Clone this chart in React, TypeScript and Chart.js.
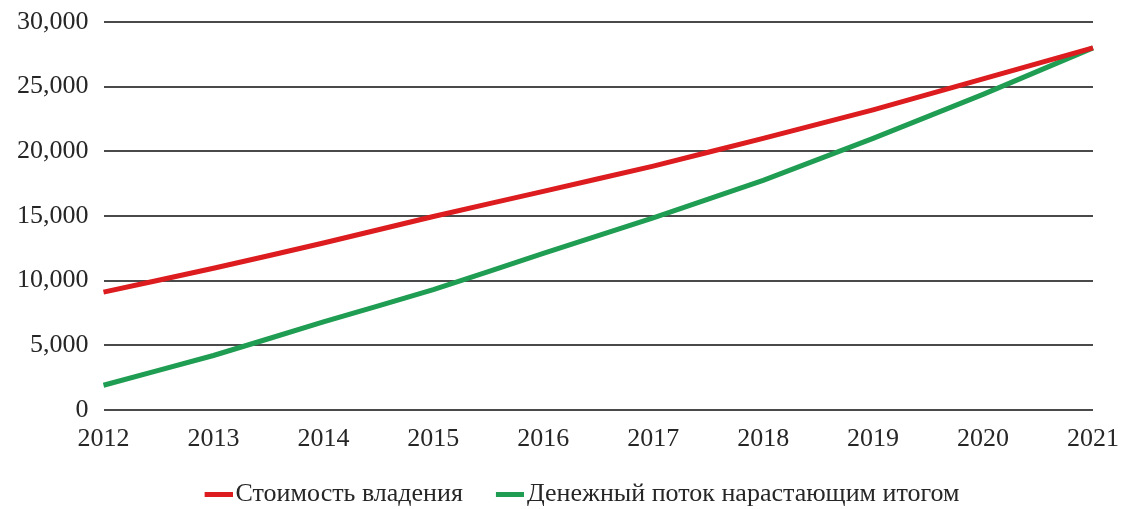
import React, { useEffect, useRef } from "react";
import { Chart, registerables } from "chart.js";

Chart.register(...registerables);

const years = ["2012", "2013", "2014", "2015", "2016", "2017", "2018", "2019", "2020", "2021"];
const ownershipCost = [9100, 10950, 12900, 14950, 16900, 18850, 21000, 23200, 25600, 28000];
const cumulativeCashFlow = [1900, 4200, 6800, 9300, 12100, 14850, 17750, 21000, 24400, 28000];
const seriesNames = ["Стоимость владения", "Денежный поток нарастающим итогом"];
const seriesColors = ["#dd1c1f", "#1f9d52"];

const FONT = "'Liberation Serif', 'Times New Roman', serif";
const BOX_W = 39;

function makeMarker(color: string): HTMLCanvasElement {
  const w = BOX_W + 20;
  const c = document.createElement("canvas");
  c.width = w;
  c.height = 5;
  const ctx = c.getContext("2d")!;
  ctx.fillStyle = color;
  ctx.fillRect(w - 28, 0, 28, 5);
  return c;
}

export default function App() {
  const ref = useRef<HTMLCanvasElement>(null);
  useEffect(() => {
    document.body.style.margin = "0";
    const markers = seriesColors.map(makeMarker);
    const chart = new Chart(ref.current!, {
      type: "line",
      data: {
        labels: years,
        datasets: [
          {
            label: seriesNames[0],
            data: ownershipCost,
            borderColor: seriesColors[0],
            backgroundColor: seriesColors[0],
            borderWidth: 5,
            pointRadius: 0,
            tension: 0.1,
          },
          {
            label: seriesNames[1],
            data: cumulativeCashFlow,
            borderColor: seriesColors[1],
            backgroundColor: seriesColors[1],
            borderWidth: 5,
            pointRadius: 0,
            tension: 0.1,
          },
        ],
      },
      options: {
        responsive: false,
        animation: false,
        layout: { padding: { left: 2, right: -19, top: 22, bottom: -8 } },
        scales: {
          x: {
            offset: false,
            grid: { display: false, drawTicks: false },
            border: { display: false },
            ticks: { color: "#262626", font: { family: FONT, size: 26 }, padding: 14, maxRotation: 0 },
            afterFit: (s: any) => {
              s.paddingLeft = 0;
              s.paddingRight = 29;
            },
          },
          y: {
            min: 0,
            max: 30000,
            grid: { color: "#4a4a4a", lineWidth: 2, drawTicks: false },
            border: { display: false },
            ticks: {
              stepSize: 5000,
              color: "#262626",
              font: { family: FONT, size: 26 },
              padding: 15,
              callback: (v: any) => Number(v).toLocaleString("en-US"),
            },
            afterFit: (s: any) => {
              s.paddingTop = 0;
              s.paddingBottom = 0;
            },
          },
        },
        plugins: {
          tooltip: { enabled: false },
          legend: {
            position: "bottom",
            labels: {
              color: "#262626",
              font: { family: FONT, size: 26 },
              usePointStyle: true,
              pointStyleWidth: BOX_W,
              boxWidth: BOX_W,
              padding: 12,
              generateLabels: (ch: any) => {
                const items = Chart.defaults.plugins.legend.labels.generateLabels(ch);
                return items.map((it: any, i: number) => ({ ...it, pointStyle: markers[i], lineWidth: 0 }));
              },
            },
          },
        },
      },
    });
    return () => chart.destroy();
  }, []);
  return (
    <div style={{ width: 1122, height: 509 }}>
      <canvas ref={ref} width={1122} height={509} />
    </div>
  );
}
